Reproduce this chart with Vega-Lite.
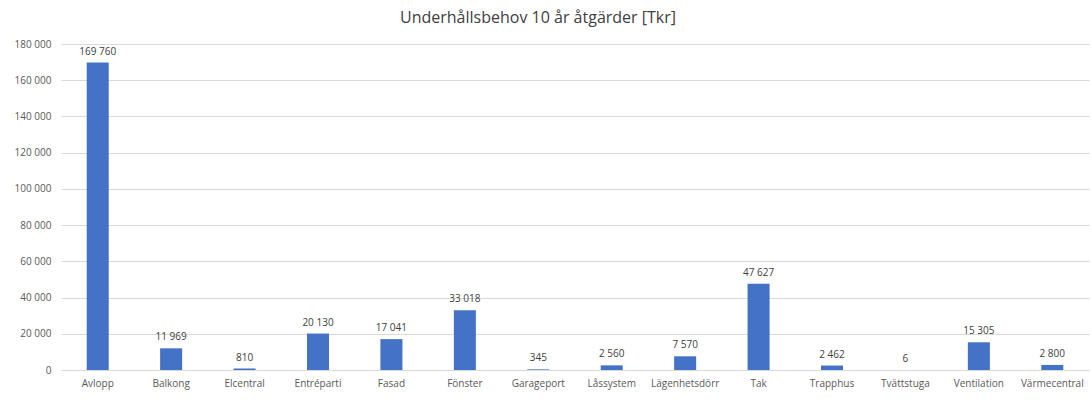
{
  "$schema": "https://vega.github.io/schema/vega-lite/v6.json",
  "autosize": "none",
  "width": 1028,
  "height": 326,
  "padding": {"left": 61, "top": 44, "right": 2, "bottom": 30},
  "background": "white",
  "title": {
    "text": "Underhållsbehov 10 år åtgärder [Tkr]",
    "fontSize": 16,
    "font": "Open Sans",
    "fontWeight": "normal",
    "color": "#404040",
    "anchor": "middle",
    "dx": -37,
    "offset": 13
  },
  "data": {
    "values": [
      {"kategori": "Avlopp", "varde": 169760},
      {"kategori": "Balkong", "varde": 11969},
      {"kategori": "Elcentral", "varde": 810},
      {"kategori": "Entréparti", "varde": 20130},
      {"kategori": "Fasad", "varde": 17041},
      {"kategori": "Fönster", "varde": 33018},
      {"kategori": "Garageport", "varde": 345},
      {"kategori": "Låssystem", "varde": 2560},
      {"kategori": "Lägenhetsdörr", "varde": 7570},
      {"kategori": "Tak", "varde": 47627},
      {"kategori": "Trapphus", "varde": 2462},
      {"kategori": "Tvättstuga", "varde": 6},
      {"kategori": "Ventilation", "varde": 15305},
      {"kategori": "Värmecentral", "varde": 2800}
    ]
  },
  "encoding": {
    "x": {
      "field": "kategori",
      "type": "nominal",
      "sort": null,
      "scale": {"paddingInner": 0.7, "paddingOuter": 0.35},
      "axis": {
        "title": null,
        "labelAngle": 0,
        "ticks": false,
        "labelPadding": 8,
        "labelFontSize": 10,
        "labelFont": "Open Sans",
        "labelColor": "#595959",
        "domainColor": "#d9d9d9",
        "grid": false
      }
    },
    "y": {
      "field": "varde",
      "type": "quantitative",
      "scale": {"domain": [0, 180000], "nice": false},
      "axis": {
        "title": null,
        "values": [0, 20000, 40000, 60000, 80000, 100000, 120000, 140000, 160000, 180000],
        "format": ",d",
        "ticks": false,
        "domain": false,
        "labelPadding": 10,
        "labelFontSize": 10,
        "labelFont": "Open Sans",
        "labelColor": "#595959",
        "gridColor": "#d9d9d9"
      }
    }
  },
  "layer": [
    {"mark": {"type": "bar", "color": "#4472C4"}},
    {
      "mark": {"type": "text", "baseline": "bottom", "dy": -6, "fontSize": 10, "font": "Open Sans", "color": "#404040"},
      "encoding": {"text": {"field": "varde", "type": "quantitative", "format": ",d"}}
    }
  ],
  "config": {
    "view": {"stroke": null},
    "locale": {
      "number": {"decimal": ",", "thousands": " ", "grouping": [3], "currency": ["", " kr"]}
    }
  }
}
